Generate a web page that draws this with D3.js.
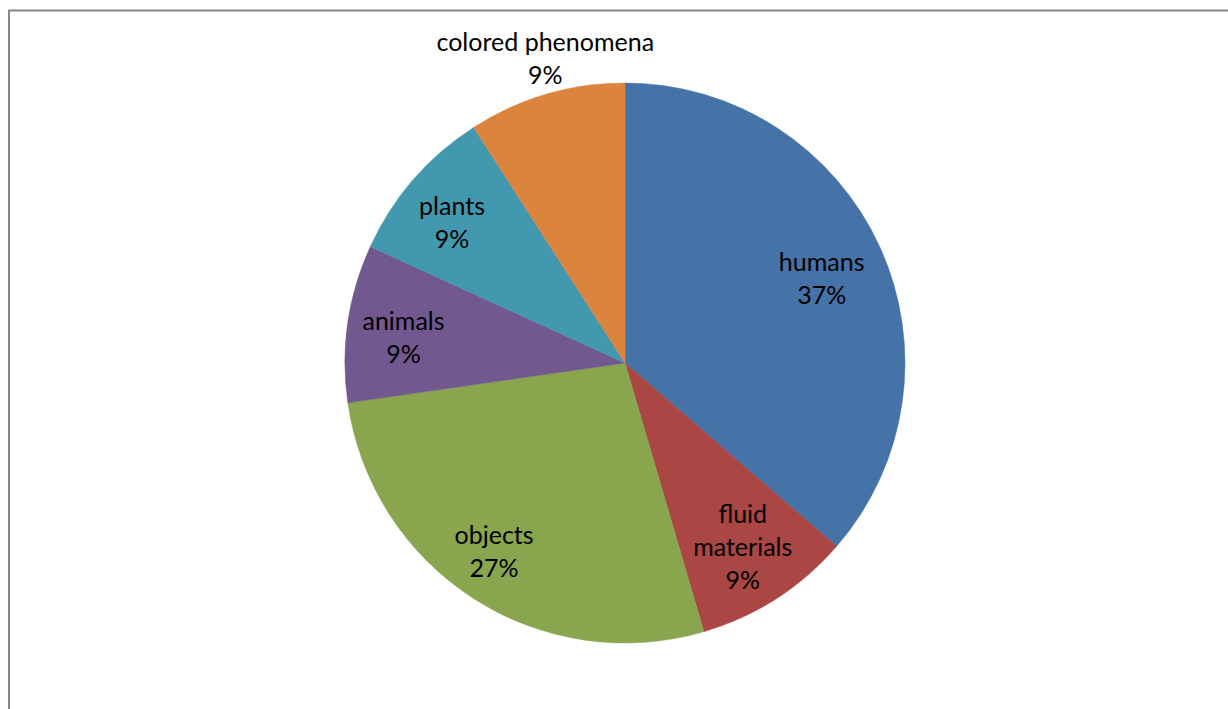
<!DOCTYPE html>
<html>
<head>
<meta charset="utf-8">
<script src="https://cdn.jsdelivr.net/npm/d3@7"></script>
<style>
  html, body { margin: 0; padding: 0; background: #fff; }
  svg { display: block; }
  text { font-family: Lato, "Open Sans", "Liberation Sans", sans-serif; font-size: 25px; fill: #000; }
</style>
</head>
<body>
<svg id="chart" width="1228" height="709"></svg>
<script>
const categories = ["humans", "fluid materials", "objects", "animals", "plants", "colored phenomena"];
const values = [4, 1, 3, 1, 1, 1];
const percentLabels = ["37%", "9%", "27%", "9%", "9%", "9%"];
const labelLines = [["humans"], ["fluid", "materials"], ["objects"], ["animals"], ["plants"], ["colored phenomena"]];
const colors = ["#4572A7", "#AA4643", "#89A54E", "#71588F", "#4198AF", "#DB843D"];

// layout config for labels: [radius fraction, angle offset in degrees]
const labelLayout = [[0.764, 1.4], [0.782, 0.2], [0.821, 2.0], [0.796, -1.8], [0.795, -1.9], [1.125, 1.7]];

const svg = d3.select("#chart");
const cx = 625, cy = 363, r = 280;

// frame
svg.append("path")
  .attr("d", "M9,709 L9,10.5 L1228,10.5")
  .attr("fill", "none").attr("stroke", "#868686").attr("stroke-width", 2);

const data = categories.map((c, i) => ({ name: c, value: values[i], pct: percentLabels[i], lines: labelLines[i], color: colors[i], idx: i }));

const pie = d3.pie().value(d => d.value).sort(null);
const arcs = pie(data);
const arc = d3.arc().innerRadius(0).outerRadius(r);

const g = svg.append("g").attr("transform", `translate(${cx},${cy})`);
g.selectAll("path.slice").data(arcs).enter().append("path")
  .attr("class", "slice")
  .attr("d", arc)
  .attr("fill", d => d.data.color)
  .attr("stroke", d => d.data.color)
  .attr("stroke-width", 0.5);

const lineH = 33;
arcs.forEach(a => {
  const [rf, off] = labelLayout[a.data.idx];
  const mid = (a.startAngle + a.endAngle) / 2 + off * Math.PI / 180;
  const lr = rf * r;
  const x = Math.sin(mid) * lr;
  const y = -Math.cos(mid) * lr;
  const lines = a.data.lines.concat([a.data.pct]);
  const t = g.append("text").attr("text-anchor", "middle");
  const y0 = y - (lines.length - 1) * lineH / 2;
  lines.forEach((s, i) => {
    t.append("tspan").attr("x", x).attr("y", y0 + i * lineH).attr("dy", "0.35em").text(s);
  });
});
</script>
</body>
</html>
